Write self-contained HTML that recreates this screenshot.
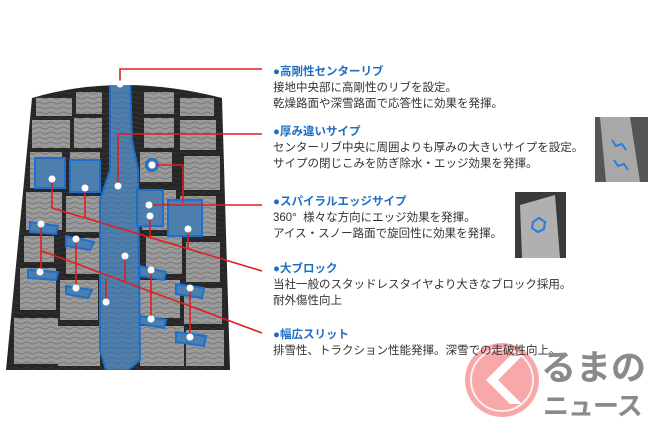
<!DOCTYPE html>
<html><head><meta charset="utf-8"><style>
body{margin:0;width:650px;height:433px;background:#fff;overflow:hidden;position:relative;font-family:"Liberation Sans","Noto Sans CJK JP",sans-serif}
.t{position:absolute;left:273px;font-size:11.5px;line-height:16px;color:#333;white-space:nowrap}
.h{color:#1f6fc0;font-weight:bold}
.lg{position:absolute;white-space:nowrap;font-weight:bold;color:#8a8a8a;font-family:"Noto Sans CJK JP",sans-serif}
</style></head><body>
<svg width="650" height="433" style="position:absolute;left:0;top:0">
<defs>
<pattern id="sipe" width="12" height="5" patternUnits="userSpaceOnUse"><path d="M0 3 q3 -2 6 0 t6 0" stroke="#444" stroke-width="0.8" fill="none"/></pattern>
<clipPath id="tc"><path d="M32 98 Q120 72 222 98 L230 370 L6 370 Z"/></clipPath>
</defs>
<path d="M32 98 Q120 72 222 98 L230 370 L6 370 Z" fill="#262626"/>
<g clip-path="url(#tc)">
<g fill="#9a9a9a">
<rect x="36" y="98" width="36" height="18"/><rect x="32" y="120" width="38" height="28"/><rect x="30" y="152" width="32" height="36"/>
<rect x="26" y="192" width="36" height="38"/><rect x="24" y="236" width="30" height="26"/><rect x="20" y="268" width="36" height="42"/><rect x="14" y="318" width="44" height="46"/>
<rect x="76" y="92" width="26" height="22"/><rect x="74" y="118" width="28" height="30"/><rect x="70" y="152" width="30" height="32"/>
<rect x="66" y="196" width="34" height="36"/><rect x="66" y="238" width="34" height="36"/><rect x="60" y="280" width="38" height="40"/><rect x="58" y="326" width="42" height="40"/>
<rect x="144" y="92" width="30" height="22"/><rect x="144" y="118" width="30" height="30"/><rect x="140" y="152" width="32" height="30"/>
<rect x="142" y="190" width="34" height="40"/><rect x="146" y="236" width="36" height="38"/><rect x="140" y="280" width="40" height="38"/><rect x="140" y="326" width="44" height="40"/>
<rect x="180" y="98" width="34" height="18"/><rect x="180" y="120" width="36" height="30"/><rect x="184" y="156" width="36" height="34"/>
<rect x="180" y="196" width="36" height="40"/><rect x="186" y="242" width="34" height="40"/><rect x="184" y="288" width="38" height="36"/><rect x="186" y="330" width="38" height="36"/>
</g>
<rect x="10" y="90" width="215" height="280" fill="url(#sipe)" opacity="0.5"/>
<g fill="#4d7fae" stroke="#1d6fd0" stroke-width="2">
<path d="M110 78 L130 78 L132 140 L138 170 L140 360 L128 370 L106 370 L100 350 L100 200 L110 170 Z"/>
<rect x="35" y="158" width="30" height="30"/><rect x="70" y="160" width="30" height="32"/>
<rect x="137" y="190" width="26" height="36"/><rect x="168" y="200" width="34" height="36"/>
<path d="M30 222 L58 226 L56 234 L30 232 Z"/><path d="M28 270 L58 272 L56 280 L28 278 Z"/>
<path d="M66 236 L94 242 L90 250 L66 246 Z"/><path d="M66 286 L92 290 L88 298 L66 294 Z"/>
<path d="M140 266 L166 272 L164 280 L140 276 Z"/><path d="M140 316 L166 320 L164 328 L140 324 Z"/>
<path d="M176 284 L204 288 L202 298 L176 294 Z"/><path d="M176 332 L206 336 L204 346 L176 342 Z"/>
<circle cx="152" cy="165" r="6"/>
</g>
<rect x="100" y="90" width="40" height="280" fill="url(#sipe)" opacity="0.35"/>
</g>
<g stroke="#e01e1e" stroke-width="1.6" fill="none">
<path d="M120 84 V69 H262"/>
<path d="M118 186 V134 H262"/>
<path d="M152 165 H183 V203 M149 205 H262"/>
<path d="M52 179 V208 L262 271 M85 188 V218 M150 216 V237 M188 229 V249"/>
<path d="M41 224 V272 M42 251 L262 333 M76 239 V288 M125 256 V282 M106 302 V279 M151 270 V319 M190 288 V337"/>
</g>
<g fill="#fff">
<circle cx="120" cy="84" r="3.5"/><circle cx="118" cy="186" r="3.5"/><circle cx="152" cy="165" r="3.5"/><circle cx="149" cy="205" r="3.5"/>
<circle cx="52" cy="179" r="3.5"/><circle cx="85" cy="188" r="3.5"/><circle cx="150" cy="216" r="3.5"/><circle cx="188" cy="229" r="3.5"/>
<circle cx="41" cy="224" r="3.5"/><circle cx="40" cy="272" r="3.5"/><circle cx="76" cy="239" r="3.5"/><circle cx="76" cy="288" r="3.5"/>
<circle cx="125" cy="256" r="3.5"/><circle cx="106" cy="302" r="3.5"/><circle cx="151" cy="270" r="3.5"/><circle cx="151" cy="319" r="3.5"/>
<circle cx="190" cy="288" r="3.5"/><circle cx="190" cy="337" r="3.5"/>
</g>
<rect x="595" y="117" width="53" height="65" fill="#555"/>
<path d="M600 117 L630 117 L640 182 L606 182 Z" fill="#a8a8a8"/>
<path d="M612 140 l4 6 l6 -2 l4 6 M614 160 l4 6 l6 -2 l4 6" stroke="#2a7fd8" stroke-width="2" fill="none"/>
<rect x="515" y="192" width="51" height="66" fill="#3a3a3a"/>
<path d="M520 205 L555 195 L560 258 L522 258 Z" fill="#b0b0b0"/>
<path d="M533 222 l6 -4 l6 4 l-1 7 l-6 3 l-6 -4 Z" stroke="#2a7fd8" stroke-width="2.2" fill="none"/>
<circle cx="502" cy="380" r="37" fill="#f47a7a" opacity="0.65"/>
<circle cx="502" cy="380" r="31" fill="none" stroke="#fff" stroke-width="2" opacity="0.8"/>
<path d="M510 356 L486 380 L510 404 L522 404 L498 380 L522 356 Z" fill="#fff"/>
</svg>
<div class="t" style="top:64px"><span class="h">●高剛性センターリブ</span><br>接地中央部に高剛性のリブを設定。<br>乾燥路面や深雪路面で応答性に効果を発揮。</div>
<div class="t" style="top:124px"><span class="h">●厚み違いサイプ</span><br>センターリブ中央に周囲よりも厚みの大きいサイプを設定。<br>サイプの閉じこみを防ぎ除水・エッジ効果を発揮。</div>
<div class="t" style="top:194px"><span class="h">●スパイラルエッジサイプ</span><br>360°&nbsp; 様々な方向にエッジ効果を発揮。<br>アイス・スノー路面で旋回性に効果を発揮。</div>
<div class="t" style="top:261px"><span class="h">●大ブロック</span><br>当社一般のスタッドレスタイヤより大きなブロック採用。<br>耐外傷性向上</div>
<div class="t" style="top:327px"><span class="h">●幅広スリット</span><br>排雪性、トラクション性能発揮。深雪での走破性向上。</div>
<div class="lg" style="left:541px;top:344px;font-size:35px;line-height:44px">るまの</div>
<div class="lg" style="left:543px;top:390px;font-size:26px;line-height:30px;letter-spacing:-1px">ニュース</div>
</body></html>
